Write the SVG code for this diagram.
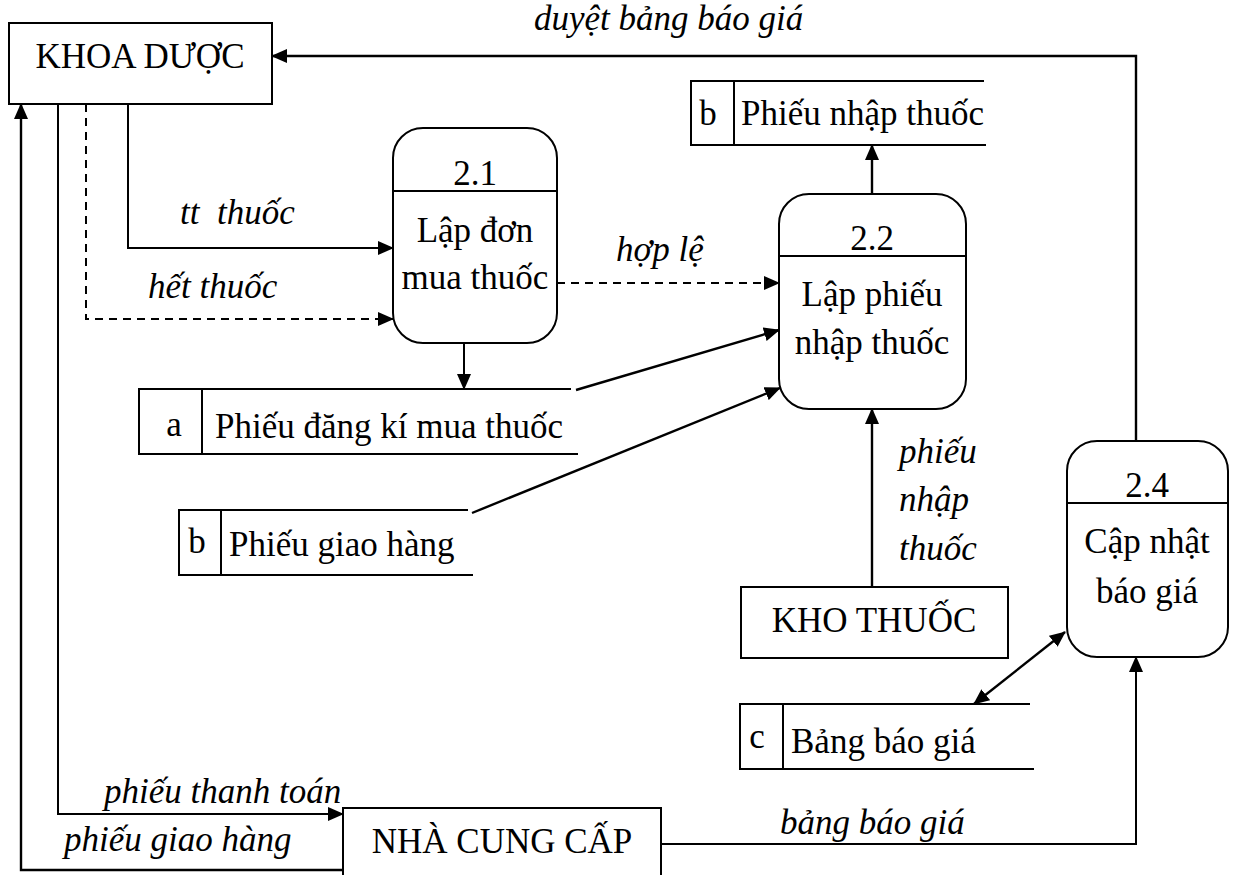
<svg xmlns="http://www.w3.org/2000/svg" width="1239" height="875" viewBox="0 0 1239 875">
  <style>
    .box { fill: #fff; stroke: #000; stroke-width: 2; }
    .proc { fill: #fff; stroke: #000; stroke-width: 2; }
    .edge { fill: none; stroke: #000; stroke-width: 2; }
    .flow { fill: none; stroke: #000; stroke-width: 2.4; }
    .dash { stroke-dasharray: 8 6; }
    .t { font-family: "Liberation Serif", "Times New Roman", serif; font-size: 35px; fill: #000; }
    .c { text-anchor: middle; }
    .lbl { font-family: "Liberation Serif", "Times New Roman", serif; font-size: 35px; font-style: italic; fill: #000; }
  </style>
  <defs>
    <marker id="arr" markerUnits="userSpaceOnUse" markerWidth="16" markerHeight="14" refX="15" refY="7" orient="auto-start-reverse" viewBox="0 0 16 14">
      <path d="M0,0 L16,7 L0,14 z" fill="#000"/>
    </marker>
  </defs>

  <rect width="1239" height="875" fill="#fff"/>

  <!-- connectors -->
  <g id="connectors">
    <!-- 2.4 -> KHOA DUOC : duyet bang bao gia -->
    <polyline class="flow" points="1136,441 1136,56 272,56" marker-end="url(#arr)"/>
    <!-- KHOA DUOC -> 2.1 : tt thuoc -->
    <polyline class="edge" points="128,104 128,248 393,248" marker-end="url(#arr)"/>
    <!-- KHOA DUOC -> 2.1 : het thuoc -->
    <polyline class="edge dash" points="86,104 86,319 393,319" marker-end="url(#arr)"/>
    <!-- KHOA DUOC -> NHA CUNG CAP : phieu thanh toan -->
    <polyline class="edge" points="58,104 58,814 343,814" marker-end="url(#arr)"/>
    <!-- NHA CUNG CAP -> KHOA DUOC : phieu giao hang -->
    <polyline class="flow" points="343,870 21,870 21,104" marker-end="url(#arr)"/>
    <!-- 2.1 -> store a -->
    <line class="edge" x1="464" y1="343" x2="464" y2="389" marker-end="url(#arr)"/>
    <!-- 2.1 -> 2.2 : hop le -->
    <line class="edge dash" x1="557" y1="283" x2="779" y2="283" marker-end="url(#arr)"/>
    <!-- store a -> 2.2 -->
    <line class="flow" x1="576" y1="390" x2="779" y2="330" marker-end="url(#arr)"/>
    <!-- store b (giao hang) -> 2.2 -->
    <line class="flow" x1="472" y1="513" x2="780" y2="388" marker-end="url(#arr)"/>
    <!-- 2.2 -> store b (nhap thuoc) -->
    <line class="flow" x1="872" y1="194" x2="872" y2="145" marker-end="url(#arr)"/>
    <!-- KHO THUOC -> 2.2 -->
    <line class="flow" x1="872" y1="587" x2="872" y2="409" marker-end="url(#arr)"/>
    <!-- 2.4 <-> store c -->
    <line class="flow" x1="1065" y1="632" x2="974" y2="704" marker-start="url(#arr)" marker-end="url(#arr)"/>
    <!-- NHA CUNG CAP -> 2.4 : bang bao gia -->
    <polyline class="edge" points="661,844 1136,844 1136,657" marker-end="url(#arr)"/>

    <text class="lbl" x="534" y="30">duyệt bảng báo giá</text>
    <text class="lbl" x="180" y="224" xml:space="preserve">tt  thuốc</text>
    <text class="lbl" x="148" y="298">hết thuốc</text>
    <text class="lbl" x="616" y="261">hợp lệ</text>
    <text class="lbl" x="899" y="463">phiếu</text>
    <text class="lbl" x="899" y="511">nhập</text>
    <text class="lbl" x="899" y="560">thuốc</text>
    <text class="lbl" x="104" y="803">phiếu thanh toán</text>
    <text class="lbl" x="64" y="851">phiếu giao hàng</text>
    <text class="lbl" x="780" y="834">bảng báo giá</text>
  </g>

  <!-- external entities -->
  <g id="khoa-duoc">
    <rect class="box" x="9" y="23" width="263" height="81"/>
    <text class="t c" x="140" y="68">KHOA DƯỢC</text>
  </g>
  <g id="nha-cung-cap">
    <rect class="box" x="343" y="808" width="318" height="80"/>
    <text class="t c" x="502" y="853">NHÀ CUNG CẤP</text>
  </g>
  <g id="kho-thuoc">
    <rect class="box" x="741" y="587" width="267" height="71"/>
    <text class="t c" x="874" y="632">KHO THUỐC</text>
  </g>

  <!-- processes -->
  <g id="p2-1">
    <rect class="proc" x="393" y="128" width="164" height="215" rx="30" ry="30"/>
    <line class="edge" x1="392" y1="191" x2="557" y2="191"/>
    <text class="t c" x="475" y="185">2.1</text>
    <text class="t c" x="475" y="242">Lập đơn</text>
    <text class="t c" x="475" y="289">mua thuốc</text>
  </g>
  <g id="p2-2">
    <rect class="proc" x="779" y="194" width="187" height="215" rx="30" ry="30"/>
    <line class="edge" x1="778" y1="256" x2="966" y2="256"/>
    <text class="t c" x="872" y="250">2.2</text>
    <text class="t c" x="872" y="306">Lập phiếu</text>
    <text class="t c" x="872" y="354">nhập thuốc</text>
  </g>
  <g id="p2-4">
    <rect class="proc" x="1067" y="441" width="161" height="216" rx="30" ry="30"/>
    <line class="edge" x1="1066" y1="503" x2="1228" y2="503"/>
    <text class="t c" x="1147" y="497">2.4</text>
    <text class="t c" x="1147" y="553">Cập nhật</text>
    <text class="t c" x="1147" y="603">báo giá</text>
  </g>

  <!-- data stores -->
  <g id="store-b-nhap">
    <path class="edge" d="M984,81 H691 V145 H986 M734,81 V145"/>
    <text class="t c" x="708" y="125">b</text>
    <text class="t" x="741" y="125">Phiếu nhập thuốc</text>
  </g>
  <g id="store-a">
    <path class="edge" d="M571,389 H139 V454 H578 M202,389 V454"/>
    <text class="t c" x="174" y="436">a</text>
    <text class="t" x="215" y="438">Phiếu đăng kí mua thuốc</text>
  </g>
  <g id="store-b-giao">
    <path class="edge" d="M468,510 H179 V575 H473 M221,510 V575"/>
    <text class="t c" x="197" y="553">b</text>
    <text class="t" x="229" y="556">Phiếu giao hàng</text>
  </g>
  <g id="store-c">
    <path class="edge" d="M1030,704 H740 V769 H1034 M783,704 V769"/>
    <text class="t c" x="757" y="748">c</text>
    <text class="t" x="791" y="753">Bảng báo giá</text>
  </g>
</svg>
